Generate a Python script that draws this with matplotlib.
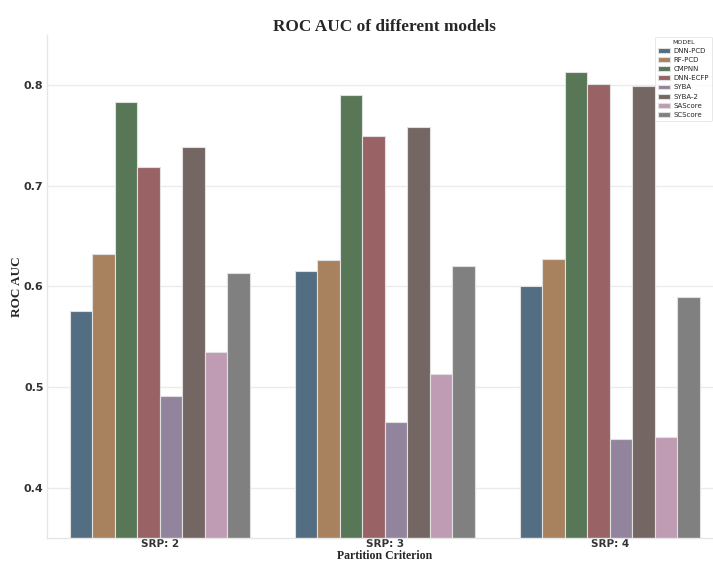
import matplotlib
matplotlib.use('Agg')
import matplotlib.pyplot as plt
import pandas as pd
import seaborn as sns

criteria = ['SRP: 2', 'SRP: 3', 'SRP: 4']
models = ['DNN-PCD', 'RF-PCD', 'CMPNN', 'DNN-ECFP', 'SYBA', 'SYBA-2', 'SAScore', 'SCScore']
auc_srp2 = [0.576, 0.632, 0.783, 0.719, 0.491, 0.739, 0.535, 0.613]
auc_srp3 = [0.615, 0.626, 0.790, 0.750, 0.465, 0.759, 0.513, 0.620]
auc_srp4 = [0.600, 0.627, 0.813, 0.801, 0.448, 0.799, 0.450, 0.590]
colors = ['#536d82', '#a8825f', '#577757', '#996366',
          '#93849e', '#746663', '#bf9cb3', '#808080']

rows = []
for crit, vals in zip(criteria, [auc_srp2, auc_srp3, auc_srp4]):
    for m, v in zip(models, vals):
        rows.append({'Partition Criterion': crit, 'MODEL': m, 'ROC AUC': v})
df = pd.DataFrame(rows)

sns.set_style('whitegrid')
fig = plt.figure(figsize=(7.13, 5.62), dpi=100)
ax = fig.add_axes([47 / 713, 24 / 562, 675.5 / 713, 503 / 562])

sns.barplot(data=df, x='Partition Criterion', y='ROC AUC', hue='MODEL',
            hue_order=models, palette=colors, saturation=1, ax=ax,
            edgecolor='#e0e0e0', linewidth=0.8)

ax.set_ylim(0.35, 0.85)
ax.set_xlim(-0.5, 2.5)
ax.set_yticks([0.4, 0.5, 0.6, 0.7, 0.8])
ax.yaxis.grid(True, color='#ebebeb', linewidth=1)
ax.xaxis.grid(False)
sns.despine(ax=ax)
for s in ['left', 'bottom']:
    ax.spines[s].set_color('#e6e6e6')
    ax.spines[s].set_linewidth(1)
ax.tick_params(axis='y', length=0, labelsize=8, pad=2.5)
ax.tick_params(axis='x', length=0, labelsize=7.5, pad=1)
for lbl in ax.get_xticklabels() + ax.get_yticklabels():
    lbl.set_fontweight('bold')
    lbl.set_color('#333333')

ax.set_title('ROC AUC of different models', fontsize=12.4, fontweight='bold',
             family='Liberation Serif', pad=3)
ax.set_ylabel('ROC AUC', fontsize=9.5, fontweight='bold', family='Liberation Serif')
ax.yaxis.set_label_coords(-24 / 675.5, 0.5)
ax.set_xlabel('Partition Criterion', fontsize=8.5, fontweight='bold',
              family='Liberation Serif', va='top')
ax.xaxis.set_label_coords(0.5, -12 / 503)

leg = ax.legend(title='MODEL', loc='upper right', fontsize=5, title_fontsize=4.5,
                frameon=True, bbox_to_anchor=(712 / 713, 1 - 37 / 562),
                bbox_transform=fig.transFigure, borderaxespad=0, handlelength=1.8,
                labelspacing=0.45, handletextpad=0.5)
leg.get_frame().set_edgecolor('#dddddd')
leg.get_frame().set_linewidth(0.6)

plt.savefig('out.png', dpi=100)
